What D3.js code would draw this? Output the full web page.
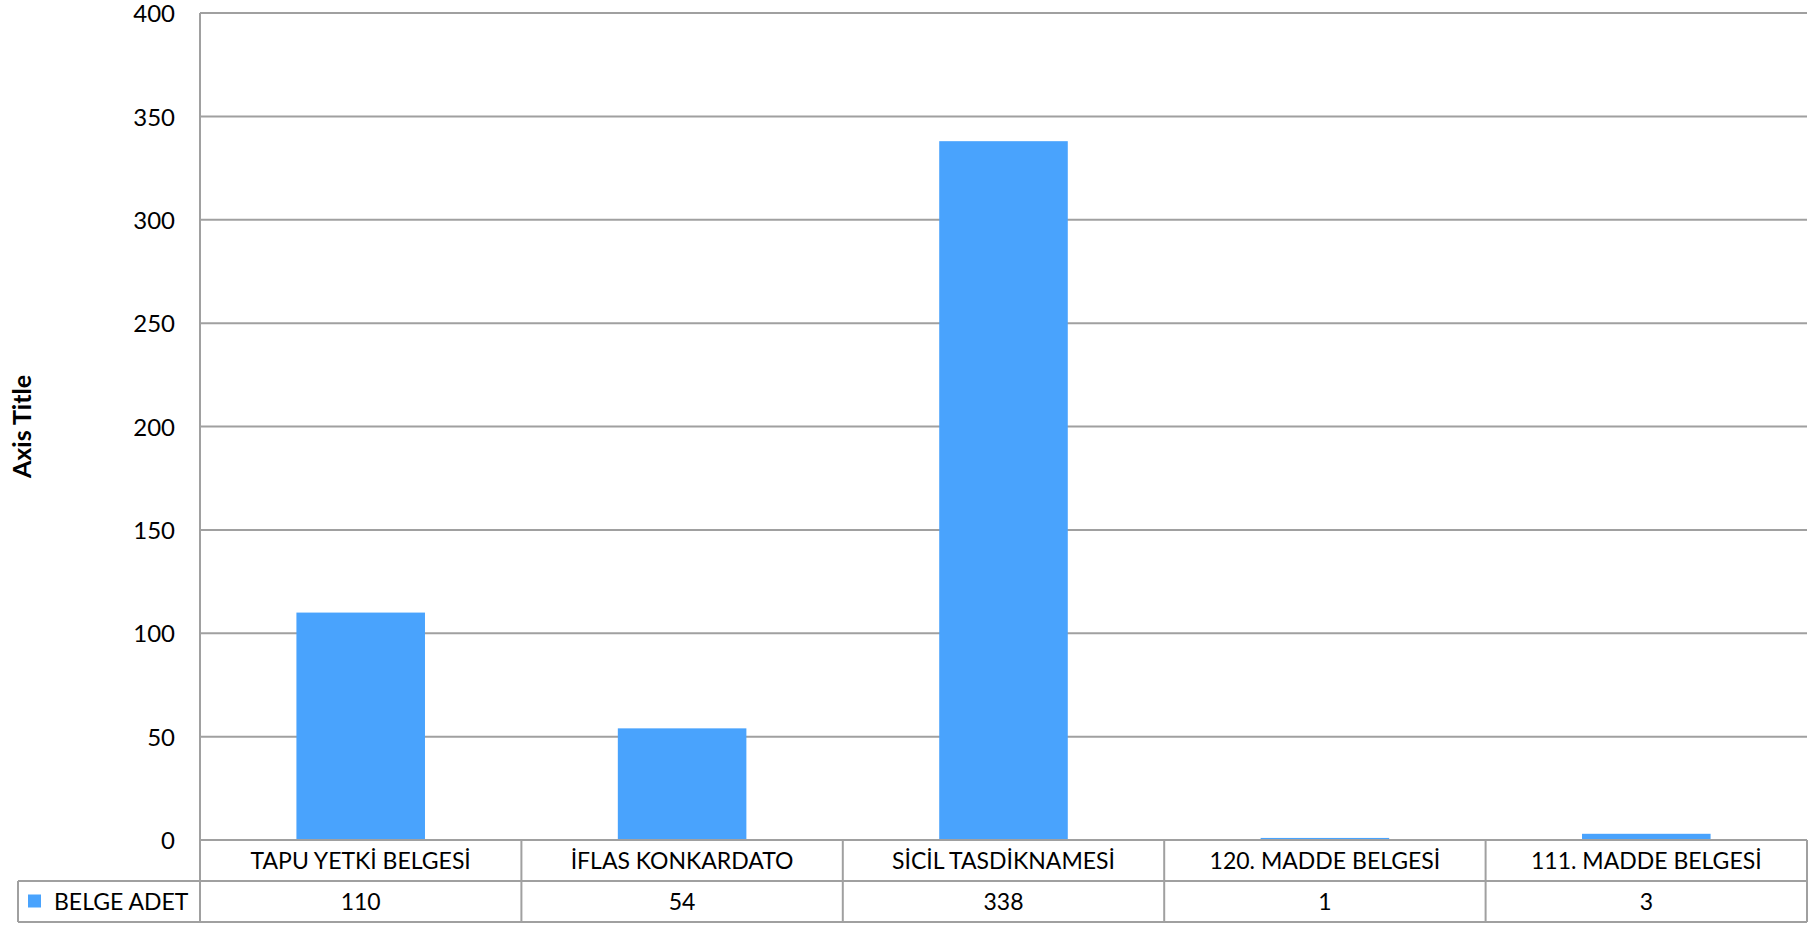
<!DOCTYPE html>
<html><head><meta charset="utf-8">
<script src="https://cdn.jsdelivr.net/npm/d3@7/dist/d3.min.js"></script>
<style>body{margin:0;background:#fff}svg{display:block}text{font-family:Lato,"Liberation Sans",sans-serif;fill:#000}</style>
</head><body><svg id="c" width="1811" height="925"></svg>
<script>
const categories = ["TAPU YETKİ BELGESİ","İFLAS KONKARDATO","SİCİL TASDİKNAMESİ","120. MADDE BELGESİ","111. MADDE BELGESİ"];
const values = [110, 54, 338, 1, 3];
const seriesName = "BELGE ADET";
const yTicks = [0,50,100,150,200,250,300,350,400];
const axisTitle = "Axis Title";

const svg = d3.select("#c");
const L = 200, R = 1807, T = 13, B = 840, rowH = 41, tableLeft = 18;
const gridColor = "#a0a0a0", barColor = "#49a3fd";

const x = d3.scaleBand().domain(categories).range([L, R]).paddingInner(0.6).paddingOuter(0.3);
const xc = d3.scaleBand().domain(categories).range([L, R]);
const y = d3.scaleLinear().domain([0, 400]).range([B, T]);

// gridlines
svg.append("g").selectAll("line").data(yTicks).join("line")
  .attr("x1", L).attr("x2", R).attr("y1", d => y(d)).attr("y2", d => y(d))
  .attr("stroke", gridColor).attr("stroke-width", 2);

// y labels via axis
const yAxis = svg.append("g").attr("transform", `translate(${L},1)`)
  .call(d3.axisLeft(y).tickValues(yTicks).tickSize(0).tickPadding(25));
yAxis.select(".domain").remove();
yAxis.selectAll("text").style("font-family", "Lato").style("font-size", "24px").attr("fill", "#000");

// bars
svg.append("g").selectAll("rect").data(values).join("rect")
  .attr("x", (d, i) => x(categories[i])).attr("width", x.bandwidth())
  .attr("y", d => y(d)).attr("height", d => B - y(d))
  .attr("fill", barColor);

// axis left line
svg.append("line").attr("x1", L).attr("x2", L).attr("y1", T).attr("y2", B + 2 * rowH)
  .attr("stroke", gridColor).attr("stroke-width", 2);

// table
const tg = svg.append("g");
tg.append("line").attr("x1", L).attr("x2", R).attr("y1", B).attr("y2", B).attr("stroke", gridColor).attr("stroke-width", 2);
tg.append("line").attr("x1", tableLeft).attr("x2", R).attr("y1", B + rowH).attr("y2", B + rowH).attr("stroke", gridColor).attr("stroke-width", 2);
tg.append("line").attr("x1", tableLeft).attr("x2", R).attr("y1", B + 2 * rowH).attr("y2", B + 2 * rowH).attr("stroke", gridColor).attr("stroke-width", 2);
tg.append("line").attr("x1", tableLeft).attr("x2", tableLeft).attr("y1", B + rowH).attr("y2", B + 2 * rowH).attr("stroke", gridColor).attr("stroke-width", 2);
tg.selectAll("line.v").data(categories).join("line").attr("class", "v")
  .attr("x1", d => xc(d) + xc.bandwidth()).attr("x2", d => xc(d) + xc.bandwidth())
  .attr("y1", B).attr("y2", B + 2 * rowH).attr("stroke", gridColor).attr("stroke-width", 2);

tg.selectAll("text.cat").data(categories).join("text").attr("class", "cat")
  .attr("x", d => xc(d) + xc.bandwidth() / 2).attr("y", B + rowH / 2 + 8)
  .attr("text-anchor", "middle").style("font-size", "23px").text(d => d);
tg.selectAll("text.val").data(values).join("text").attr("class", "val")
  .attr("x", (d, i) => xc(categories[i]) + xc.bandwidth() / 2).attr("y", B + rowH * 1.5 + 8)
  .attr("text-anchor", "middle").style("font-size", "23px").text(d => d);

// legend key
tg.append("rect").attr("x", 28).attr("y", B + rowH * 1.5 - 7).attr("width", 13).attr("height", 13).attr("fill", barColor);
tg.append("text").attr("x", 54).attr("y", B + rowH * 1.5 + 8).style("font-size", "23px").text(seriesName);

// axis title
svg.append("text").attr("transform", `translate(31,${(T + B) / 2}) rotate(-90)`)
  .attr("text-anchor", "middle").style("font-size", "25px").style("font-weight", "bold").text(axisTitle);
</script></body></html>
